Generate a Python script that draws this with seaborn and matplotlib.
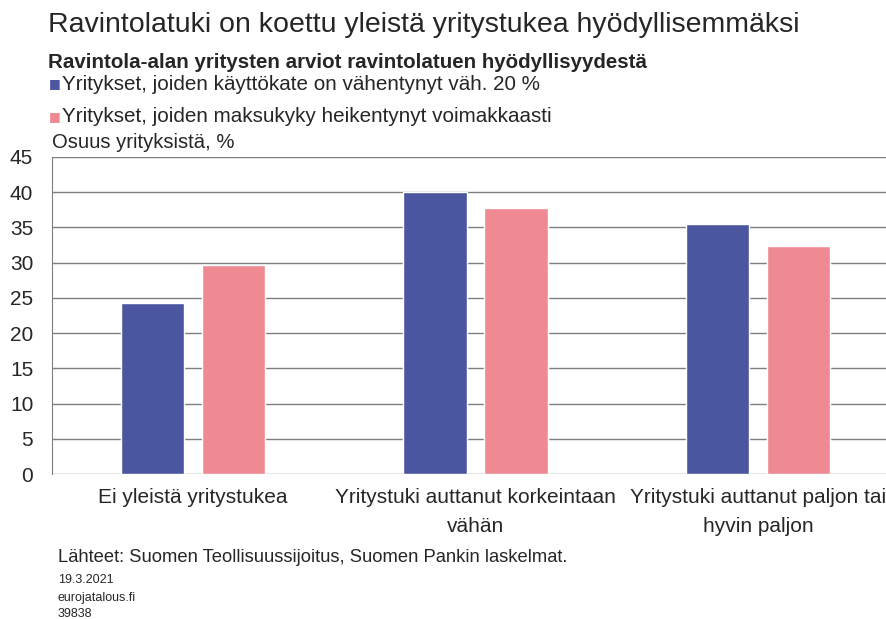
import pandas as pd
import matplotlib.pyplot as plt
import seaborn as sns

# arvot luettu kuvasta
luokat = ['Ei yleistä yritystukea',
          'Yritystuki auttanut korkeintaan\nvähän',
          'Yritystuki auttanut paljon tai\nhyvin paljon']
sarjat = ['Yritykset, joiden käyttökate on vähentynyt väh. 20 %',
          'Yritykset, joiden maksukyky heikentynyt voimakkaasti']
kayttokate = [24.3, 40.0, 35.5]
maksukyky = [29.6, 37.7, 32.3]
varit = ['#4B56A0', '#F08A92']

df = pd.DataFrame({
    'luokka': luokat * 2,
    'sarja': [sarjat[0]] * 3 + [sarjat[1]] * 3,
    'arvo': kayttokate + maksukyky,
})

sns.set_style('white')
plt.rcParams['font.family'] = ['Liberation Sans', 'DejaVu Sans']

fig = plt.figure(figsize=(8.86, 6.19), dpi=100)
ax = fig.add_axes([52 / 886, 1 - 474 / 619, 847 / 886, 317 / 619])

sns.barplot(data=df, x='luokka', y='arvo', hue='sarja', palette=varit,
            width=0.574, gap=0.222, ax=ax, legend=False, saturation=1)

ax.set_xlim(-0.5, 2.5)
ax.set_ylim(0, 45)
ax.set_yticks(range(0, 46, 5))
ax.set_xlabel('')
ax.set_ylabel('')
ax.yaxis.grid(True, color='#7f7f7f', linewidth=1)
ax.set_axisbelow(True)
for s in ['top', 'right', 'bottom']:
    ax.spines[s].set_visible(False)
ax.spines['left'].set_color('#7f7f7f')
ax.tick_params(axis='y', labelsize=15, length=0, pad=13.5)
ax.tick_params(axis='x', labelsize=15, length=0, pad=10)

fig.canvas.draw()
for tick in ax.xaxis.get_major_ticks():
    tick.label1.set_linespacing(1.7)

# otsikot
fig.text(48 / 886, 1 - 25 / 619, 'Ravintolatuki on koettu yleistä yritystukea hyödyllisemmäksi',
         fontsize=20.5, va='center')
fig.text(48 / 886, 1 - 62 / 619, 'Ravintola-alan yritysten arviot ravintolatuen hyödyllisyydestä',
         fontsize=14.8, fontweight='bold', va='center')
for i, (nimi, vari) in enumerate(zip(sarjat, varit)):
    y = 1 - (84 + i * 33) / 619
    fig.text(49 / 886, y, '■', color=vari, fontsize=9, va='center',
             family=['DejaVu Sans'])
    fig.text(62 / 886, y, nimi, fontsize=14.9, va='center')
fig.text(52 / 886, 1 - 143 / 619, 'Osuus yrityksistä, %', fontsize=14.6, va='center')

fig.text(58 / 886, 1 - 557 / 619, 'Lähteet: Suomen Teollisuussijoitus, Suomen Pankin laskelmat.',
         fontsize=13.2, va='center')
fig.text(58 / 886, 1 - 580 / 619, '19.3.2021', fontsize=9, va='center')
fig.text(58 / 886, 1 - 598 / 619, 'eurojatalous.fi', fontsize=9, va='center')
fig.text(58 / 886, 1 - 614 / 619, '39838', fontsize=9, va='center')

fig.savefig('out.png', dpi=100)
